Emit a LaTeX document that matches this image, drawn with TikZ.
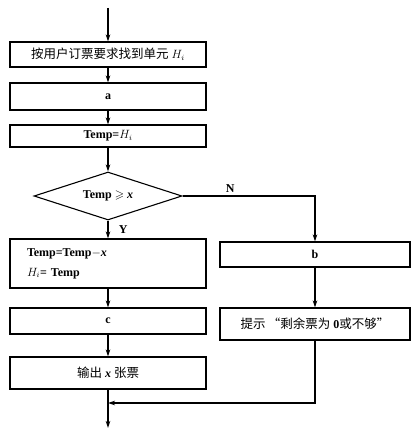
\documentclass[tikz,border=0pt]{standalone}
\usepackage{amsmath, amssymb}
\usepackage{fontspec}
\setmainfont{Liberation Serif}
\newfontfamily\cjk{Noto Sans CJK SC}
\usetikzlibrary{shapes.geometric, arrows.meta}

\begin{document}
\begin{tikzpicture}[x=1pt, y=-1pt, line width=1.1pt,
    flowbox/.style={draw, minimum width=196pt, inner sep=2pt,
                    font=\bfseries\fontsize{12}{14}\selectfont},
    sidebox/.style={flowbox, minimum width=190pt},
    flow/.style={-{Stealth[length=7pt, width=4.5pt]}}]
    \useasboundingbox (0,0) rectangle (419,433);
    \coordinate (start) at (108,8);
    \node[flowbox, minimum height=25pt] (find) at (108,54.5)
          {{\cjk\mdseries\fontsize{12.5}{14}\selectfont 按用户订票要求找到单元} $H_i$};
    \node[flowbox, minimum height=27pt] (boxa) at (108,96.5) {a};
    \node[flowbox, minimum height=22pt] (assign) at (108,136) {Temp=$H_i$};
    \node[draw, diamond, aspect=3, minimum width=148pt, minimum height=48pt,
          inner sep=0pt, font=\bfseries\fontsize{12}{14}\selectfont] (test) at (108,196)
          {Temp $\geqslant$ \textit{x}};
    \node[flowbox, minimum height=49pt, text width=162pt, inner xsep=17pt,
          align=left] (update) at (108,263.5)
          {Temp=Temp$-$\textit{x}\\[6pt] $H_i$= Temp};
    \node[flowbox, minimum height=26pt] (boxc) at (108,321) {c};
    \node[flowbox, minimum height=32pt] (output) at (108,373)
          {{\cjk\mdseries\fontsize{12.5}{14}\selectfont 输出} \textit{x} {\cjk\mdseries\fontsize{12.5}{14}\selectfont 张票}};
    \node[sidebox, minimum height=25pt] (boxb) at (315,254.5) {b};
    \node[sidebox, minimum height=32pt] (notice) at (315,324)
          {{\cjk\mdseries\fontsize{12.5}{14}\selectfont 提示\,“剩余票为} 0{\cjk\mdseries\fontsize{12.5}{14}\selectfont 或不够”}};
    \coordinate (merge) at (108,403);
    \coordinate (finish) at (108,428);
    % main column
    \draw[flow] (start) -- (find);
    \draw[flow] (find) -- (boxa);
    \draw[flow] (boxa) -- (assign);
    \draw[flow] (assign) -- (test);
    \draw[flow] (test) -- node[midway, right=7pt, font=\bfseries\fontsize{12}{14}\selectfont] {Y} (update);
    \draw[flow] (update) -- (boxc);
    \draw[flow] (boxc) -- (output);
    \draw[flow] (output) -- (finish);
    % the N branch
    \draw[flow] (test.east) -| node[pos=0.18, above, font=\bfseries\fontsize{12}{14}\selectfont] {N} (boxb.north);
    \draw[flow] (boxb) -- (notice);
    \draw[flow] (notice.south) |- (merge);
\end{tikzpicture}
\end{document}
